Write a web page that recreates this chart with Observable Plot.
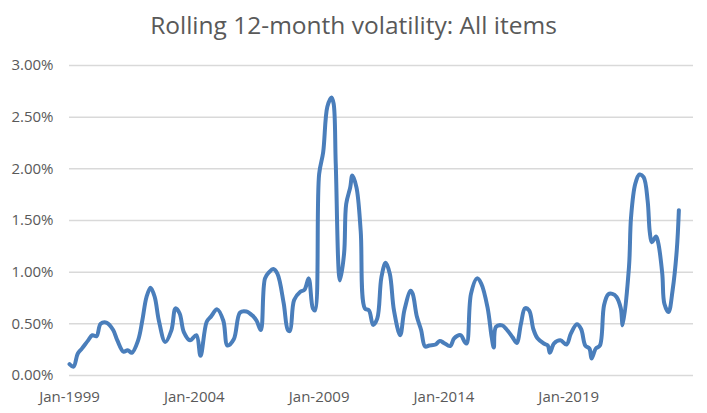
<!DOCTYPE html>
<html>
<head>
<meta charset="utf-8">
<script src="https://cdn.jsdelivr.net/npm/d3@7"></script>
<script src="https://cdn.jsdelivr.net/npm/@observablehq/plot@0.6"></script>
<style>
  html, body { margin: 0; padding: 0; background: #ffffff; }
  #wrap { width: 707px; height: 413px; overflow: hidden; }
  #title { height: 45px; line-height: 50px; text-align: center; font-family: "Open Sans", sans-serif; font-size: 24.5px; color: #595959; white-space: nowrap; }
</style>
</head>
<body>
<div id="wrap">
  <div id="title">Rolling 12-month volatility: All items</div>
  <div id="chart"></div>
</div>
<script>
// Month offsets from Jan-1999 and the rolling 12-month volatility (%)
const monthOffsets = [0,2,4,6,9,11,13,15,18,21,23,26,28,30,33,35,37,39,41,43,46,49,51,53,55,58,61,63,66,68,71,74,76,79,82,85,88,90,92,94,96,98,100,103,105,106,108,111,113,115,117,118,120,122,124,126,127,128,130,132,133,135,136,138,140,142,144,146,148,150,152,154,156,159,161,164,165,167,169,171,173,176,178,180,183,185,188,190,191,193,196,198,201,203,204,205,208,210,213,215,217,219,221,223,225,228,230,231,233,236,239,241,244,246,248,250,251,253,255,257,259,261,263,265,266,269,270,272,274,276,278,279,280,282,283,285,286,288,290,292,293];
const volatility = [0.11,0.085,0.21,0.26,0.34,0.39,0.38,0.50,0.51,0.44,0.34,0.23,0.245,0.22,0.34,0.53,0.76,0.85,0.76,0.53,0.325,0.44,0.65,0.60,0.42,0.34,0.39,0.19,0.52,0.57,0.64,0.53,0.29,0.35,0.61,0.62,0.58,0.53,0.44,0.94,1.00,1.03,0.985,0.70,0.44,0.43,0.73,0.81,0.83,0.94,0.65,0.63,1.95,2.16,2.60,2.69,2.63,2.05,0.92,1.18,1.66,1.82,1.935,1.82,1.40,0.65,0.63,0.49,0.55,0.95,1.09,0.985,0.63,0.39,0.63,0.82,0.79,0.57,0.44,0.28,0.29,0.30,0.335,0.315,0.285,0.36,0.39,0.325,0.31,0.79,0.94,0.89,0.66,0.37,0.27,0.47,0.485,0.45,0.37,0.315,0.50,0.65,0.63,0.45,0.36,0.31,0.29,0.22,0.31,0.34,0.30,0.405,0.495,0.45,0.29,0.26,0.165,0.26,0.29,0.68,0.785,0.79,0.76,0.65,0.486,1.05,1.53,1.855,1.945,1.92,1.69,1.39,1.29,1.345,1.29,0.985,0.695,0.615,0.824,1.21,1.60];

const yTickValues = [0, 0.5, 1.0, 1.5, 2.0, 2.5, 3.0];
const yTickLabels = ["0.00%", "0.50%", "1.00%", "1.50%", "2.00%", "2.50%", "3.00%"];
const xTickYears = [1999, 2004, 2009, 2014, 2019];
const xTickLabels = ["Jan-1999", "Jan-2004", "Jan-2009", "Jan-2014", "Jan-2019"];

const data = monthOffsets.map((m, i) => ({
  date: new Date(Date.UTC(1999, m, 1)),
  value: volatility[i]
}));
const xTicks = xTickYears.map(y => new Date(Date.UTC(y, 0, 1)));

const chart = Plot.plot({
  width: 707,
  height: 368,
  marginTop: 20,
  marginBottom: 38,
  marginLeft: 69,
  marginRight: 14,
  style: { fontFamily: "'Open Sans', sans-serif", fontSize: "15px", color: "#595959", background: "#ffffff" },
  x: {
    type: "utc",
    domain: [new Date(Date.UTC(1999, 0, 1)), new Date(Date.UTC(2024, 0, 1))],
    ticks: xTicks,
    tickFormat: (d) => xTickLabels[xTickYears.indexOf(d.getUTCFullYear())],
    tickSize: 0,
    tickPadding: 16,
    label: null
  },
  y: {
    domain: [0, 3],
    ticks: yTickValues,
    tickFormat: (d) => yTickLabels[yTickValues.indexOf(d)],
    tickSize: 0,
    tickPadding: 16,
    label: null
  },
  marks: [
    Plot.gridY(yTickValues, { stroke: "#d9d9d9", strokeOpacity: 1, strokeWidth: 1.5 }),
    Plot.line(data, { x: "date", y: "value", stroke: "#4a7ebb", strokeWidth: 4, curve: "catmull-rom" })
  ]
});
document.getElementById("chart").appendChild(chart);
</script>
</body>
</html>
